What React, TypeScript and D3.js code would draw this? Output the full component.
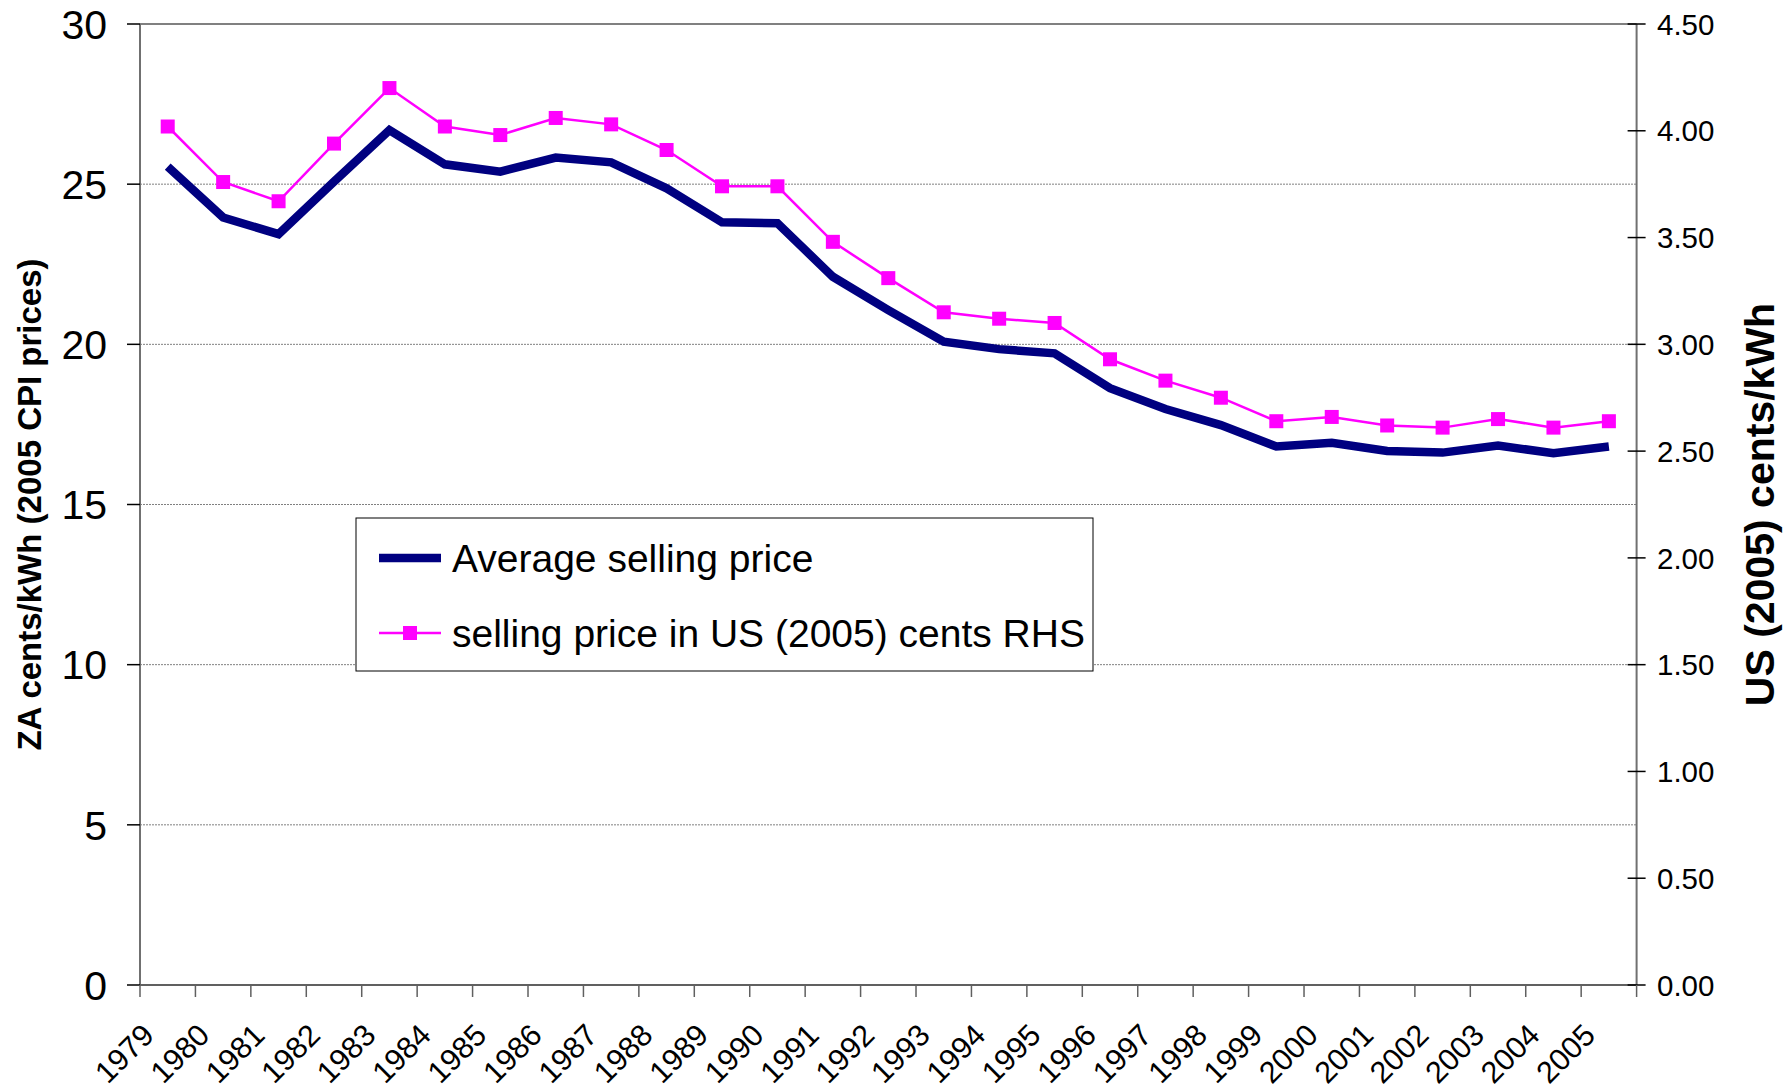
import React from "react";
import * as d3 from "d3";

const years = [
  "1979", "1980", "1981", "1982", "1983", "1984", "1985", "1986", "1987", "1988",
  "1989", "1990", "1991", "1992", "1993", "1994", "1995", "1996", "1997", "1998",
  "1999", "2000", "2001", "2002", "2003", "2004", "2005",
];
const avgPrice = [
  25.55, 23.96, 23.44, 25.08, 26.69, 25.62, 25.39, 25.83, 25.68, 24.87,
  23.81, 23.78, 22.11, 21.07, 20.08, 19.85, 19.72, 18.63, 17.98, 17.48,
  16.81, 16.93, 16.67, 16.62, 16.84, 16.6, 16.81,
];
const usPrice = [
  4.02, 3.76, 3.67, 3.94, 4.2, 4.02, 3.98, 4.06, 4.03, 3.91,
  3.74, 3.74, 3.48, 3.31, 3.15, 3.12, 3.1, 2.93, 2.83, 2.75,
  2.64, 2.66, 2.62, 2.61, 2.65, 2.61, 2.64,
];
const leftTicks = [0, 5, 10, 15, 20, 25, 30];
const rightTicks = [0, 0.5, 1, 1.5, 2, 2.5, 3, 3.5, 4, 4.5];
const legendLabels = ["Average selling price", "selling price in US (2005) cents RHS"];
const leftTitle = "ZA cents/kWh (2005 CPI prices)";
const rightTitle = "US (2005) cents/kWh";

const W = 1792;
const H = 1088;
const L = 140;
const R = 1636.6;
const T = 24;
const B = 985;
const FONT = "'Liberation Sans', Arial, Helvetica, sans-serif";
const NAVY = "#000080";
const PINK = "#FF00FF";

export default function App() {
  const x = d3.scaleBand<string>().domain(years).range([L, R]).padding(0);
  const bw = x.bandwidth();
  const cx = (y: string) => (x(y) as number) + bw / 2;
  const yL = d3.scaleLinear().domain([0, 30]).range([B, T]);
  const yR = d3.scaleLinear().domain([0, 4.5]).range([B, T]);

  const navyLine = d3
    .line<number>()
    .x((_, i) => cx(years[i]))
    .y((d) => yL(d))(avgPrice) as string;
  const pinkLine = d3
    .line<number>()
    .x((_, i) => cx(years[i]))
    .y((d) => yR(d))(usPrice) as string;

  const boundaries = years.map((y) => x(y) as number).concat([R]);
  const ms = 14;

  return (
    <svg
      width={W}
      height={H}
      style={{ position: "absolute", left: 0, top: 0, background: "#fff" }}
      fontFamily={FONT}
    >
      <rect x={0} y={0} width={W} height={H} fill="#fff" />
      {/* gridlines */}
      {leftTicks
        .filter((t) => t > 0 && t < 30)
        .map((t) => (
          <line
            key={"g" + t}
            x1={L}
            x2={R}
            y1={yL(t)}
            y2={yL(t)}
            stroke="#808080"
            strokeWidth={1}
            strokeDasharray="2,1"
          />
        ))}
      {/* plot frame */}
      <line x1={L} x2={R} y1={T} y2={T} stroke="#808080" strokeWidth={2} />
      <line x1={L} x2={L} y1={T} y2={B} stroke="#707070" strokeWidth={2} />
      <line x1={R} x2={R} y1={T} y2={B} stroke="#707070" strokeWidth={2} />
      <line x1={L} x2={R} y1={B} y2={B} stroke="#606060" strokeWidth={2} />

      {/* left ticks */}
      {leftTicks.map((t) => (
        <g key={"l" + t}>
          <line x1={L - 13} x2={L} y1={yL(t)} y2={yL(t)} stroke="#000" strokeWidth={1.5} />
          <text x={107} y={yL(t)} dy="0.36em" textAnchor="end" fontSize={41} fill="#000">
            {t}
          </text>
        </g>
      ))}
      {/* right ticks */}
      {rightTicks.map((t) => (
        <g key={"r" + t}>
          <line x1={R - 9} x2={R + 9} y1={yR(t)} y2={yR(t)} stroke="#000" strokeWidth={1.5} />
          <text x={1657} y={yR(t)} dy="0.36em" textAnchor="start" fontSize={29.5} fill="#000">
            {t.toFixed(2)}
          </text>
        </g>
      ))}
      {/* bottom ticks */}
      {boundaries.map((bx, i) => (
        <line key={"b" + i} x1={bx} x2={bx} y1={B} y2={B + 12} stroke="#606060" strokeWidth={1.5} />
      ))}
      {years.map((y) => (
        <text
          key={"xl" + y}
          transform={`translate(${cx(y) - 12},${1037}) rotate(-45)`}
          textAnchor="end"
          fontSize={30.5}
          fill="#000"
        >
          {y}
        </text>
      ))}

      {/* axis titles */}
      <text
        transform={`translate(29,${(T + B) / 2}) rotate(-90)`}
        dy="0.36em"
        textAnchor="middle"
        fontSize={33}
        fontWeight="bold"
        fill="#000"
      >
        {leftTitle}
      </text>
      <text
        transform={`translate(1759,${(T + B) / 2}) rotate(-90)`}
        dy="0.36em"
        textAnchor="middle"
        fontSize={41}
        fontWeight="bold"
        fill="#000"
      >
        {rightTitle}
      </text>

      {/* series */}
      <path d={navyLine} fill="none" stroke={NAVY} strokeWidth={8.5} strokeLinejoin="miter" />
      <path d={pinkLine} fill="none" stroke={PINK} strokeWidth={2.5} />
      {usPrice.map((v, i) => (
        <rect
          key={"m" + i}
          x={cx(years[i]) - ms / 2}
          y={yR(v) - ms / 2}
          width={ms}
          height={ms}
          fill={PINK}
        />
      ))}

      {/* legend */}
      <rect x={356} y={518} width={737} height={153} fill="#fff" stroke="#000" strokeWidth={1} />
      <line x1={379} x2={441} y1={558} y2={558} stroke={NAVY} strokeWidth={8.5} />
      <text x={452} y={558} dy="0.36em" fontSize={39} fill="#000">
        {legendLabels[0]}
      </text>
      <line x1={379} x2={441} y1={633} y2={633} stroke={PINK} strokeWidth={2.5} />
      <rect x={410 - ms / 2} y={633 - ms / 2} width={ms} height={ms} fill={PINK} />
      <text x={452} y={633} dy="0.36em" fontSize={39} fill="#000">
        {legendLabels[1]}
      </text>
    </svg>
  );
}
